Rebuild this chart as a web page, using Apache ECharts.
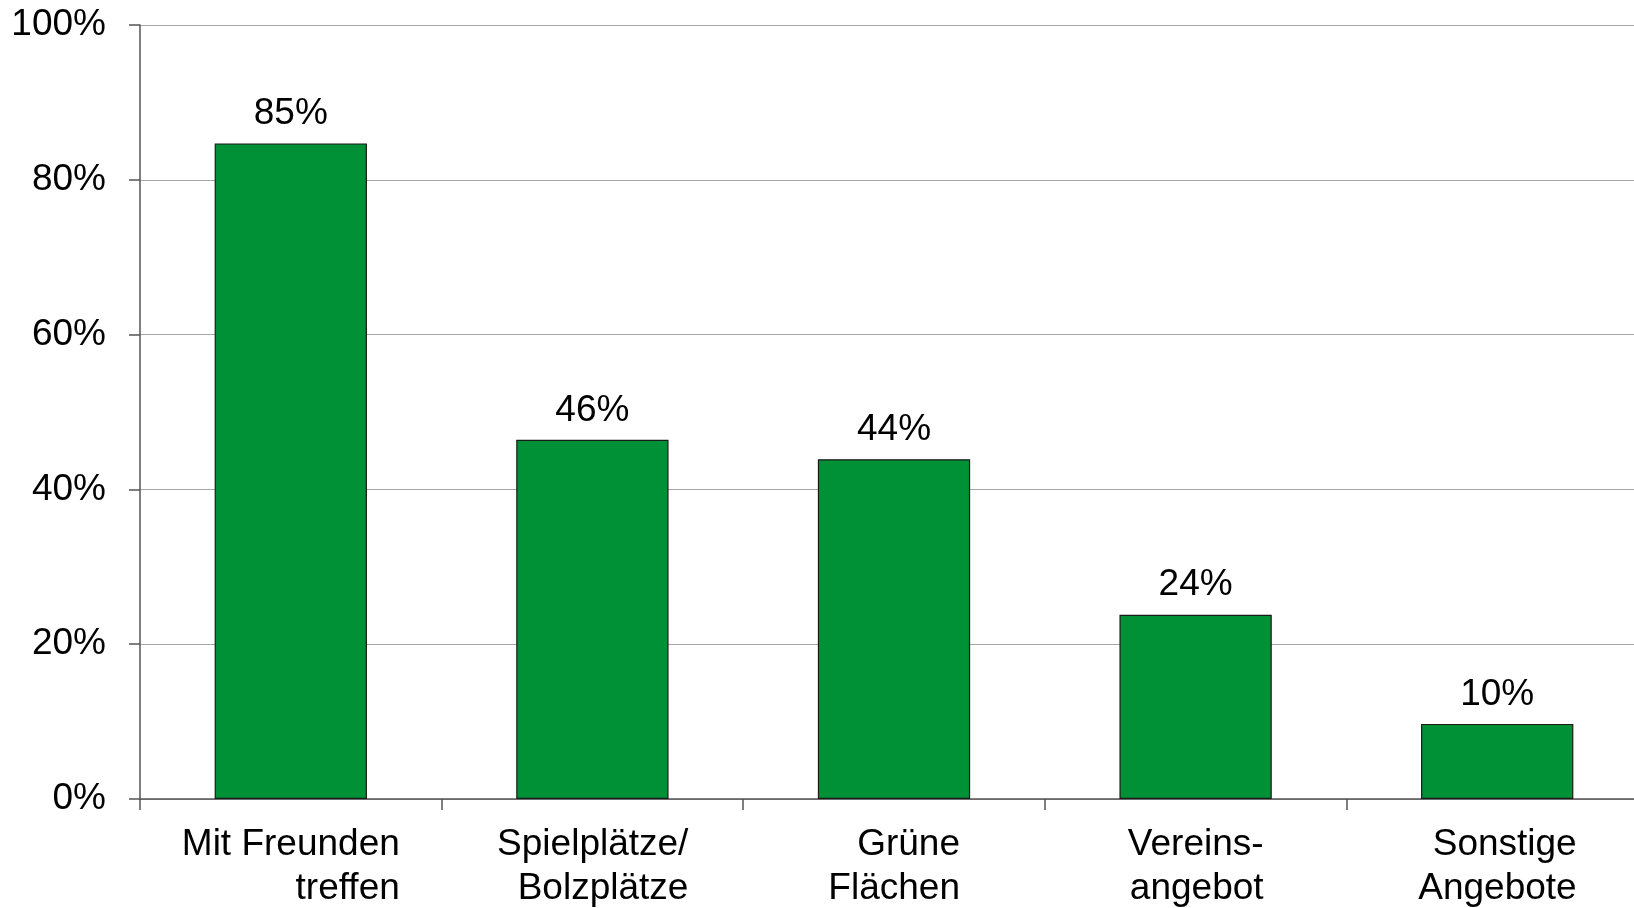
<!DOCTYPE html>
<html>
<head>
<meta charset="utf-8">
<script src="https://cdn.jsdelivr.net/npm/echarts@6/dist/echarts.min.js"></script>
<style>
html,body{margin:0;padding:0;background:#fff;}
#chart{width:1634px;height:908px;}
</style>
</head>
<body>
<div id="chart"></div>
<script>
const categories = ['Mit Freunden\ntreffen', 'Spielplätze/\nBolzplätze', 'Grüne\nFlächen', 'Vereins-\nangebot', 'Sonstige\nAngebote'];
const values = [84.7, 46.4, 43.9, 23.8, 9.7];
const yMin = 0, yMax = 100, yStep = 20;

const FONT = '"Liberation Sans", Arial, sans-serif';
const FS = 37;

// measure per-label block width so lines can be right-aligned inside a centred block
const ctx = document.createElement('canvas').getContext('2d');
ctx.font = FS + 'px ' + FONT;
const rich = {};
categories.forEach((c, i) => {
  const w = Math.max(...c.split('\n').map(l => ctx.measureText(l).width));
  rich['c' + i] = { width: Math.ceil(w), align: 'right', fontSize: FS, fontFamily: FONT, color: '#000', lineHeight: 44 };
});

const chart = echarts.init(document.getElementById('chart'), null, { renderer: 'canvas' });
chart.setOption({
  animation: false,
  backgroundColor: '#ffffff',
  grid: { left: 140, top: 25, bottom: 109, right: -14, containLabel: false, outerBoundsMode: 'none' },
  xAxis: {
    type: 'category',
    data: categories,
    axisLine: { show: true, lineStyle: { color: '#555', width: 1.5 } },
    axisTick: { show: true, length: 11, lineStyle: { color: '#555', width: 1.5 } },
    axisLabel: {
      margin: 24,
      interval: 0,
      formatter: (v, idx) => v.split('\n').map(l => '{c' + idx + '|' + l + '}').join('\n'),
      rich: rich
    },
    splitLine: { show: false }
  },
  yAxis: {
    type: 'value',
    min: yMin, max: yMax, interval: yStep,
    axisLine: { show: true, lineStyle: { color: '#555', width: 1.5 } },
    axisTick: { show: true, length: 11, lineStyle: { color: '#555', width: 1.5 } },
    axisLabel: { formatter: '{value}%', fontSize: FS, fontFamily: FONT, color: '#000', margin: 34, padding: [3, 0, 0, 0] },
    splitLine: { show: true, lineStyle: { color: '#a6a6a6', width: 1.2 } }
  },
  series: [{
    type: 'bar',
    data: values,
    barCategoryGap: '49.5%',
    itemStyle: { color: '#009036', borderColor: '#1a1a1a', borderWidth: 1.2 },
    label: {
      show: true,
      position: 'top',
      distance: 11,
      formatter: p => Math.round(p.value) + '%',
      fontSize: FS,
      fontFamily: FONT,
      color: '#000'
    }
  }]
});
</script>
</body>
</html>
